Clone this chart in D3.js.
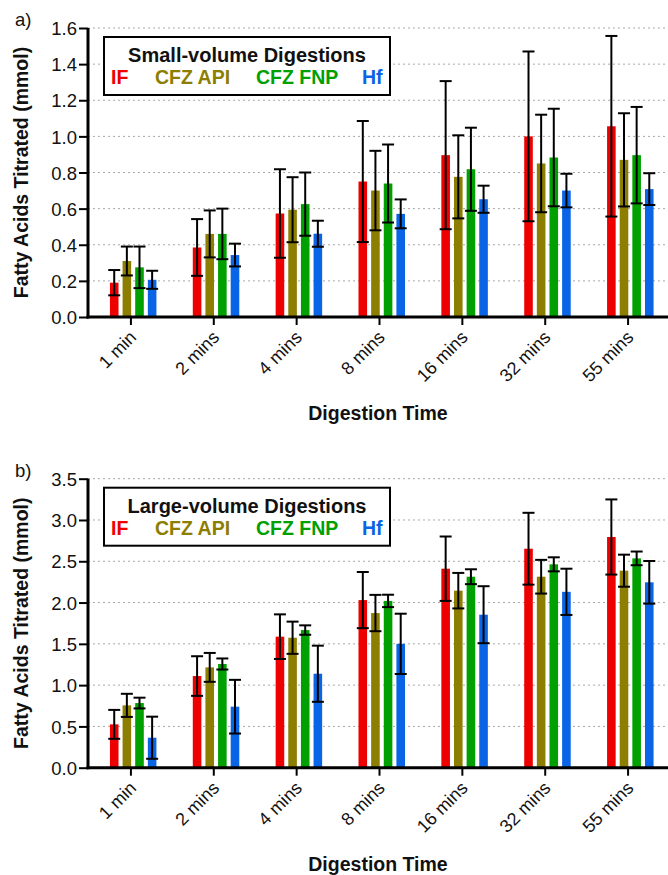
<!DOCTYPE html>
<html>
<head>
<meta charset="utf-8">
<script src="https://cdn.jsdelivr.net/npm/d3@7"></script>
<style>
  body { margin: 0; background: #fff; }
  svg { display: block; font-family: "Liberation Sans", Arial, sans-serif; }
</style>
</head>
<body>
<div id="chart"></div>
<script>
// digestion times (x categories)
var categories = ["1 min", "2 mins", "4 mins", "8 mins", "16 mins", "32 mins", "55 mins"];
var seriesNames = ["IF", "CFZ API", "CFZ FNP", "Hf"];
var seriesColors = ["#ee0000", "#8c7e00", "#00a000", "#0a64e6"];

// a) small-volume digestions, mean and error (mmol)
var smallIF     = [0.19, 0.385, 0.573, 0.75, 0.896, 1.0, 1.056];
var smallIFErr  = [0.07, 0.157, 0.245, 0.335, 0.41, 0.47, 0.5];
var smallAPI    = [0.31, 0.46, 0.594, 0.70, 0.776, 0.85, 0.87];
var smallAPIErr = [0.08, 0.13, 0.18, 0.22, 0.23, 0.27, 0.258];
var smallFNP    = [0.275, 0.46, 0.625, 0.739, 0.818, 0.883, 0.896];
var smallFNPErr = [0.115, 0.14, 0.175, 0.216, 0.23, 0.27, 0.267];
var smallHf     = [0.206, 0.343, 0.461, 0.571, 0.652, 0.70, 0.708];
var smallHfErr  = [0.05, 0.063, 0.072, 0.08, 0.075, 0.093, 0.088];

// b) large-volume digestions
var largeIF     = [0.525, 1.11, 1.587, 2.03, 2.41, 2.652, 2.794];
var largeIFErr  = [0.175, 0.24, 0.27, 0.34, 0.39, 0.435, 0.455];
var largeAPI    = [0.755, 1.215, 1.574, 1.873, 2.144, 2.313, 2.386];
var largeAPIErr = [0.14, 0.175, 0.195, 0.22, 0.215, 0.204, 0.194];
var largeFNP    = [0.783, 1.256, 1.667, 2.02, 2.313, 2.463, 2.535];
var largeFNPErr = [0.065, 0.067, 0.057, 0.075, 0.09, 0.085, 0.083];
var largeHf     = [0.363, 0.739, 1.138, 1.50, 1.853, 2.13, 2.245];
var largeHfErr  = [0.255, 0.325, 0.34, 0.365, 0.345, 0.28, 0.258];

var smallTicks = [0, 0.2, 0.4, 0.6, 0.8, 1.0, 1.2, 1.4, 1.6];
var largeTicks = [0, 0.5, 1.0, 1.5, 2.0, 2.5, 3.0, 3.5];

var width = 668, height = 875;

var svg = d3.select("#chart").append("svg")
    .attr("width", width)
    .attr("height", height);

function buildRows(means, errs) {
  var rows = [];
  categories.forEach(function(c, i) {
    seriesNames.forEach(function(s, j) {
      rows.push({cat: c, series: s, color: seriesColors[j], value: means[j][i], err: errs[j][i]});
    });
  });
  return rows;
}

function drawPanel(top, letter, title, rows, yMax, ticks) {
  var g = svg.append("g").attr("transform", "translate(0," + top + ")");
  var plotH = 289;

  var x = d3.scaleBand()
      .domain(categories)
      .range([89.5, 669.5]);

  // bars sit a bit right of the tick, like the original
  var xs = d3.scaleBand()
      .domain(seriesNames)
      .range([-21, 25.5])
      .paddingInner(0.32);

  var y = d3.scaleLinear()
      .domain([0, yMax])
      .range([plotH, 0]);

  // dotted grid
  g.append("g").selectAll("line")
      .data(ticks.filter(function(t) { return t > 0; }))
      .enter().append("line")
      .attr("x1", 88).attr("x2", width)
      .attr("y1", function(d) { return y(d); })
      .attr("y2", function(d) { return y(d); })
      .attr("stroke", "#a8a8a8")
      .attr("stroke-width", 1)
      .attr("stroke-dasharray", "2,3");

  // bars
  g.append("g").selectAll("rect")
      .data(rows)
      .enter().append("rect")
      .attr("x", function(d) { return x(d.cat) + x.bandwidth() / 2 + xs(d.series); })
      .attr("y", function(d) { return y(d.value); })
      .attr("width", xs.bandwidth())
      .attr("height", function(d) { return y(0) - y(d.value); })
      .attr("fill", function(d) { return d.color; });

  // error bars
  var eb = g.append("g").selectAll("g")
      .data(rows)
      .enter().append("g")
      .attr("transform", function(d) {
        return "translate(" + (x(d.cat) + x.bandwidth() / 2 + xs(d.series) + xs.bandwidth() / 2) + ",0)";
      })
      .attr("stroke", "#000")
      .attr("stroke-width", 2);
  eb.append("line")
      .attr("y1", function(d) { return y(d.value - d.err); })
      .attr("y2", function(d) { return y(d.value + d.err); });
  eb.append("line")
      .attr("x1", -6).attr("x2", 6)
      .attr("y1", function(d) { return y(d.value + d.err); })
      .attr("y2", function(d) { return y(d.value + d.err); });
  eb.append("line")
      .attr("x1", -6).attr("x2", 6)
      .attr("y1", function(d) { return y(d.value - d.err); })
      .attr("y2", function(d) { return y(d.value - d.err); });

  // y axis
  var yAxis = g.append("g")
      .attr("transform", "translate(88,0)")
      .call(d3.axisLeft(y).tickValues(ticks).tickFormat(d3.format(".1f")).tickSize(9).tickPadding(2));
  yAxis.select(".domain").attr("stroke-width", 3).attr("d", "M0,0V" + (plotH + 1.5));
  yAxis.selectAll(".tick line").attr("stroke-width", 2);
  yAxis.selectAll(".tick text").style("font-size", "18.5px").attr("fill", "#111").attr("dy", "0.36em");

  // x axis
  var xAxis = g.append("g")
      .attr("transform", "translate(0," + plotH + ")")
      .call(d3.axisBottom(x).tickSize(8).tickSizeOuter(0));
  xAxis.select(".domain").attr("stroke-width", 3).attr("d", "M86.5,0H" + width);
  xAxis.selectAll(".tick line").attr("stroke-width", 2);
  xAxis.selectAll(".tick text")
      .style("font-size", "18px")
      .attr("fill", "#111")
      .attr("text-anchor", "end")
      .attr("x", 0).attr("y", 0).attr("dy", "0.35em")
      .attr("transform", "translate(2,17) rotate(-45)");

  // panel letter
  g.append("text")
      .attr("x", 15).attr("y", -2)
      .style("font-size", "18.5px")
      .attr("fill", "#111")
      .text(letter);

  // y title
  g.append("text")
      .attr("transform", "rotate(-90)")
      .attr("x", -plotH / 2).attr("y", 28)
      .attr("text-anchor", "middle")
      .style("font-size", "19.5px")
      .style("font-weight", "bold")
      .attr("fill", "#111")
      .text("Fatty Acids Titrated (mmol)");

  // x title
  g.append("text")
      .attr("x", 378).attr("y", plotH + 103)
      .attr("text-anchor", "middle")
      .style("font-size", "19.5px")
      .style("font-weight", "bold")
      .attr("fill", "#111")
      .text("Digestion Time");

  // legend box
  var lg = g.append("g");
  lg.append("rect")
      .attr("x", 104).attr("y", 9)
      .attr("width", 286).attr("height", 58)
      .attr("fill", "#fff")
      .attr("stroke", "#000")
      .attr("stroke-width", 2);
  lg.append("text")
      .attr("x", 247).attr("y", 34)
      .attr("text-anchor", "middle")
      .style("font-size", "20px")
      .style("font-weight", "bold")
      .attr("fill", "#111")
      .text(title);
  var legendX = [111, 155, 256, 362];
  lg.selectAll(".item")
      .data(seriesNames)
      .enter().append("text")
      .attr("class", "item")
      .attr("x", function(d, i) { return legendX[i]; })
      .attr("y", 56)
      .style("font-size", "19.5px")
      .style("font-weight", "bold")
      .attr("fill", function(d, i) { return seriesColors[i]; })
      .text(function(d) { return d; });
}

drawPanel(28, "a)", "Small-volume Digestions",
  buildRows([smallIF, smallAPI, smallFNP, smallHf], [smallIFErr, smallAPIErr, smallFNPErr, smallHfErr]),
  1.6, smallTicks);

drawPanel(478.7, "b)", "Large-volume Digestions",
  buildRows([largeIF, largeAPI, largeFNP, largeHf], [largeIFErr, largeAPIErr, largeFNPErr, largeHfErr]),
  3.5, largeTicks);
</script>
</body>
</html>
